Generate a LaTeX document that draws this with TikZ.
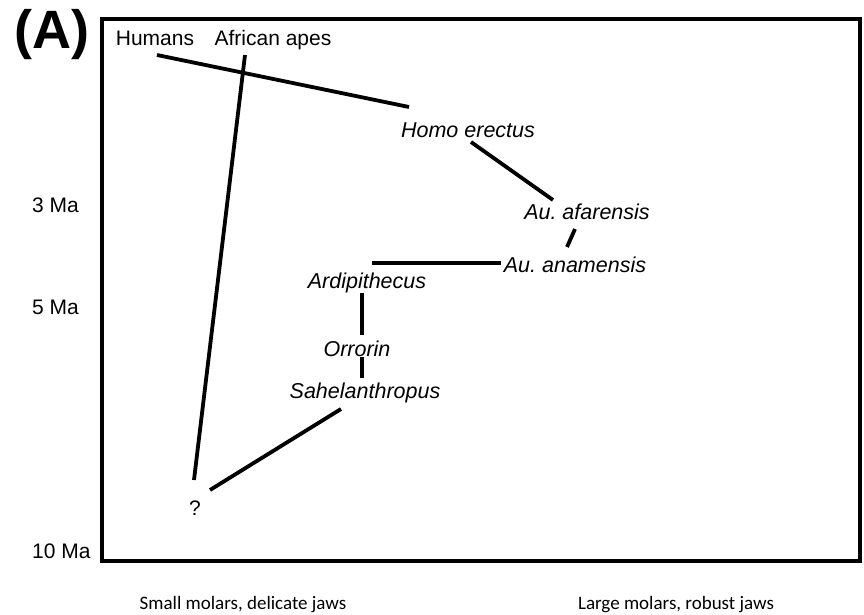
\documentclass[tikz,border=0pt]{standalone}
\usepackage{fontspec}
\setmainfont{Liberation Sans}
\newfontfamily\calib{Carlito}
\frenchspacing
\begin{document}
\begin{tikzpicture}[x=1pt,y=-1pt,
  lbl/.style={inner sep=0pt,font=\fontsize{21}{25}\selectfont},
  sp/.style={inner sep=0pt,font=\fontsize{21.5}{25}\selectfont\itshape},
  axl/.style={inner sep=0pt,anchor=west,font=\fontsize{21}{25}\selectfont},
  bottomcap/.style={inner sep=0pt,font=\fontsize{19}{22}\selectfont\calib},
  br/.style={line width=3.8pt},
  frame/.style={line width=3.5pt}]
\useasboundingbox (0,0) rectangle (864,615);
\draw[frame] (102,19) rectangle (860,561);
\node[inner sep=0pt,font=\fontsize{54}{60}\selectfont\bfseries] (A) at (52,35) {(A)};
\node[lbl,anchor=base] (hum) at (155,46) {Humans};
\node[lbl,anchor=base] (apes) at (273,46) {African apes};
\node[sp] (he) at (468,130) {Homo erectus};
\node[sp] (afa) at (587,212) {Au.\ afarensis};
\node[sp] (ana) at (575,265) {Au.\ anamensis};
\node[sp] (ardi) at (367,283) {Ardipithecus};
\node[sp] (orr) at (357,349) {Orrorin};
\node[sp] (sah) at (365,393) {Sahelanthropus};
\node[lbl] (q) at (195,508) {?};
\node[axl] (m3) at (32,205) {3 Ma};
\node[axl] (m5) at (32,307) {5 Ma};
\node[axl] (m10) at (32,551) {10 Ma};
\node[bottomcap] (small) at (243,605) {Small molars, delicate jaws};
\node[bottomcap] (large) at (676,605) {Large molars, robust jaws};
\coordinate (h1) at (157,55); \coordinate (h2) at (409,107);
\coordinate (a1) at (245,55); \coordinate (a2) at (194,480);
\coordinate (e1) at (471,142); \coordinate (e2) at (553,200);
\coordinate (f1) at (575,229); \coordinate (f2) at (567,247);
\coordinate (n1) at (372,263); \coordinate (n2) at (501,263);
\coordinate (d1) at (362,293); \coordinate (d2) at (362,335);
\coordinate (o1) at (362,357); \coordinate (o2) at (362,378);
\coordinate (s1) at (341,409); \coordinate (s2) at (210,490);
\draw[br] (h1) -- (h2);
\draw[br] (a1) -- (a2);
\draw[br] (e1) -- (e2);
\draw[br] (f1) -- (f2);
\draw[br] (n1) -- (n2);
\draw[br] (d1) -- (d2);
\draw[br] (o1) -- (o2);
\draw[br] (s1) -- (s2);
\end{tikzpicture}
\end{document}
